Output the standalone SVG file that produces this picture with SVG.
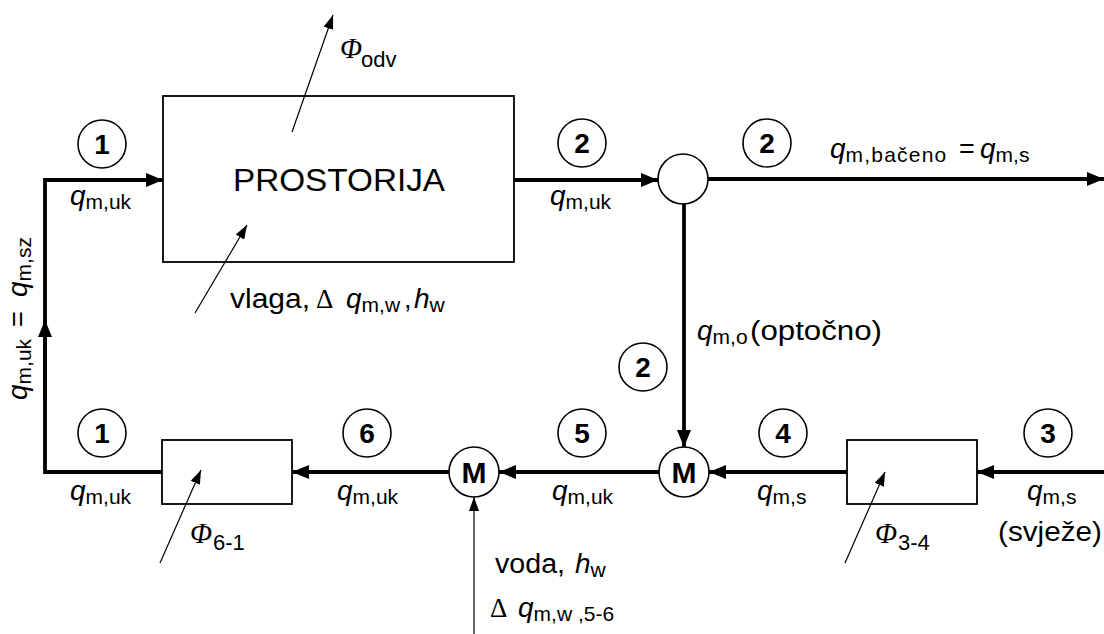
<svg xmlns="http://www.w3.org/2000/svg" width="1104" height="634" viewBox="0 0 1104 634">
<style>
text{font-family:"Liberation Sans",Arial,sans-serif;fill:#000}
.box{fill:#fff;stroke:#000;stroke-width:1.8}
.nc{fill:#fff;stroke:#000;stroke-width:1.6}
.num{font-size:28px;font-weight:bold;text-anchor:middle}
.m{font-size:30px;font-weight:bold;text-anchor:middle}
.lbl{font-size:27px}
.q{font-style:italic;font-size:28px}
.s{font-size:21px}
.phi{font-family:"Liberation Serif","Times New Roman",serif;font-style:italic;font-size:29px}
.ps{font-size:22px}
.thick{fill:none;stroke:#000;stroke-width:3.8}
.thin{fill:none;stroke:#000;stroke-width:1.2}
</style>
<defs>
<marker id="ah" markerUnits="userSpaceOnUse" markerWidth="17" markerHeight="14" refX="17" refY="7" orient="auto"><path d="M0,0 L17,7 L0,14 z" fill="#000"/></marker>
<marker id="at" markerUnits="userSpaceOnUse" markerWidth="14" markerHeight="10" refX="14" refY="5" orient="auto"><path d="M0,0 L14,5 L0,10 z" fill="#000"/></marker>
</defs>
<rect width="1104" height="634" fill="#fff"/>

<g id="prostorija">
<rect class="box" x="163" y="96" width="351" height="166"/>
<text x="233" y="191" font-size="32" textLength="212" lengthAdjust="spacingAndGlyphs">PROSTORIJA</text>
</g>
<g id="grijac">
<rect class="box" x="162" y="440" width="130" height="64"/>
</g>
<g id="predgrijac">
<rect class="box" x="847" y="440" width="130" height="64"/>
</g>
<g id="razdjelnik">
<circle class="nc" cx="683" cy="179" r="25"/>
</g>
<g id="mijesanje1">
<circle class="nc" cx="684" cy="472" r="25"/>
<text class="m" x="684" y="483">M</text>
</g>
<g id="mijesanje2">
<circle class="nc" cx="474" cy="472" r="25"/>
<text class="m" x="474" y="483">M</text>
</g>

<g id="connectors">
<path class="thick" d="M162,472 H45 V180 H163" marker-end="url(#ah)"/>
<path class="thick" d="M45,400 V320" marker-end="url(#ah)"/>
<path class="thick" d="M514,180 H658" marker-end="url(#ah)"/>
<path class="thick" d="M708,179 H1104" marker-end="url(#ah)"/>
<path class="thick" d="M684,204 V447" marker-end="url(#ah)"/>
<path class="thick" d="M1104,472 H977" marker-end="url(#ah)"/>
<path class="thick" d="M847,472 H709" marker-end="url(#ah)"/>
<path class="thick" d="M659,472 H499" marker-end="url(#ah)"/>
<path class="thick" d="M449,472 H292" marker-end="url(#ah)"/>
<path class="thin" d="M292,132 L333,15" marker-end="url(#at)"/>
<path class="thin" d="M195,313 L247,225" marker-end="url(#at)"/>
<path class="thin" d="M160,563 L201,470" marker-end="url(#at)"/>
<path class="thin" d="M845,563 L885,472" marker-end="url(#at)"/>
<path class="thin" d="M474,634 V497" marker-end="url(#at)"/>
</g>

<g id="tocke">
<circle class="nc" cx="102" cy="144" r="24"/><text class="num" x="102" y="154">1</text>
<circle class="nc" cx="582" cy="143" r="24"/><text class="num" x="582" y="153">2</text>
<circle class="nc" cx="767" cy="143" r="24"/><text class="num" x="767" y="153">2</text>
<circle class="nc" cx="643" cy="367" r="24"/><text class="num" x="643" y="377">2</text>
<circle class="nc" cx="102" cy="433" r="24"/><text class="num" x="102" y="443">1</text>
<circle class="nc" cx="367" cy="433" r="24"/><text class="num" x="367" y="443">6</text>
<circle class="nc" cx="582" cy="433" r="24"/><text class="num" x="582" y="443">5</text>
<circle class="nc" cx="783" cy="433" r="24"/><text class="num" x="783" y="443">4</text>
<circle class="nc" cx="1048" cy="433" r="24"/><text class="num" x="1048" y="443">3</text>
</g>

<g id="oznake">
<text class="lbl" x="70" y="205"><tspan class="q">q</tspan><tspan class="s" dy="4">m,uk</tspan></text>
<text class="lbl" x="550" y="205"><tspan class="q">q</tspan><tspan class="s" dy="4">m,uk</tspan></text>
<text class="lbl" x="830" y="158"><tspan class="q">q</tspan><tspan class="s" dy="4" letter-spacing="1.2">m,bačeno</tspan><tspan dy="-4" x="959">=</tspan><tspan class="q" x="980">q</tspan><tspan class="s" dy="4">m,s</tspan></text>
<text class="lbl" transform="translate(27,400) rotate(-90)"><tspan class="q">q</tspan><tspan class="s" dy="4">m,uk</tspan><tspan dy="-4" x="73">=</tspan><tspan class="q" x="103">q</tspan><tspan class="s" dy="4">m,sz</tspan></text>
<text class="lbl" x="697" y="340"><tspan class="q">q</tspan><tspan class="s" dy="4">m,o</tspan></text>
<text class="lbl" x="750" y="340" textLength="132" lengthAdjust="spacingAndGlyphs">(optočno)</text>
<text class="lbl" x="70" y="500"><tspan class="q">q</tspan><tspan class="s" dy="4">m,uk</tspan></text>
<text class="lbl" x="337" y="500"><tspan class="q">q</tspan><tspan class="s" dy="4">m,uk</tspan></text>
<text class="lbl" x="552" y="500"><tspan class="q">q</tspan><tspan class="s" dy="4">m,uk</tspan></text>
<text class="lbl" x="757" y="500"><tspan class="q">q</tspan><tspan class="s" dy="4">m,s</tspan></text>
<text class="lbl" x="1027" y="500"><tspan class="q">q</tspan><tspan class="s" dy="4">m,s</tspan></text>
<text class="lbl" x="998" y="541" textLength="104" lengthAdjust="spacingAndGlyphs">(svježe)</text>
<text x="340" y="58"><tspan class="phi">Φ</tspan><tspan class="ps" x="361" dy="9">odv</tspan></text>
<text x="190" y="543"><tspan class="phi">Φ</tspan><tspan class="ps" x="213" dy="7">6-1</tspan></text>
<text x="875" y="543"><tspan class="phi">Φ</tspan><tspan class="ps" x="898" dy="7">3-4</tspan></text>
<text class="lbl" x="230" y="308" textLength="80" lengthAdjust="spacingAndGlyphs">vlaga,</text>
<text class="lbl" x="316" y="308"><tspan font-family="Liberation Serif,serif">Δ</tspan><tspan class="q" x="346">q</tspan><tspan class="s" dy="4">m,w</tspan><tspan dy="-4" x="404">,</tspan><tspan class="q" x="414">h</tspan><tspan class="s" dy="4">w</tspan></text>
<text class="lbl" x="495" y="573" textLength="70" lengthAdjust="spacingAndGlyphs">voda,</text>
<text class="lbl" x="575" y="573"><tspan class="q">h</tspan><tspan class="s" dy="4">w</tspan></text>
<text class="lbl" x="490" y="617"><tspan font-family="Liberation Serif,serif">Δ</tspan><tspan class="q" x="518">q</tspan><tspan class="s" dy="4">m,w ,5-6</tspan></text>
</g>
</svg>
